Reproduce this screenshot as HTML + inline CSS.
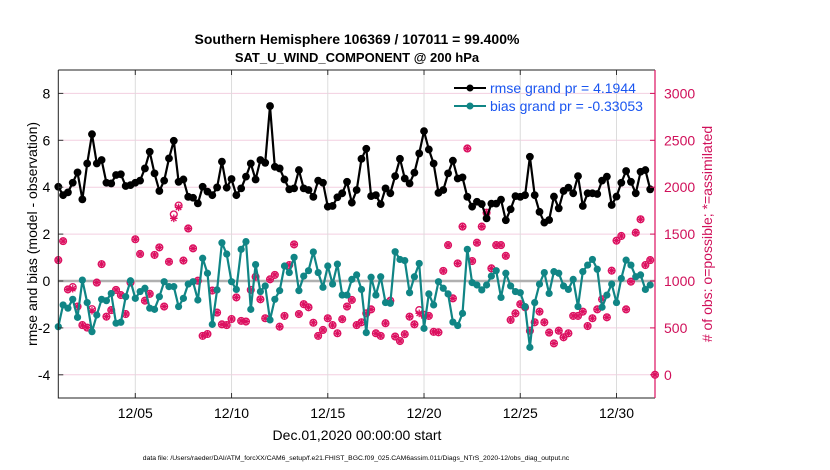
<!DOCTYPE html>
<html><head><meta charset="utf-8"><style>
body{margin:0;background:#fff;}
svg{display:block;font-family:"Liberation Sans",sans-serif;}
</style></head><body>
<svg id="chart" width="830" height="470" viewBox="0 0 830 470" xmlns="http://www.w3.org/2000/svg">
<rect width="830" height="470" fill="#fff"/>
<text x="357" y="44" text-anchor="middle" font-size="14" font-weight="bold">Southern Hemisphere 106369 / 107011 = 99.400%</text>
<text x="357" y="62" text-anchor="middle" font-size="13" font-weight="bold">SAT_U_WIND_COMPONENT @ 200 hPa</text>
<g id="grid"></g>
<g id="marks"></g>
<g id="axes"></g>
<text transform="translate(37,234) rotate(-90)" text-anchor="middle" font-size="14">rmse and bias (model - observation)</text>
<text transform="translate(712,234) rotate(-90)" text-anchor="middle" font-size="14" fill="#d0105a">#  of obs: o=possible; *=assimilated</text>
<text x="357" y="440" text-anchor="middle" font-size="14">Dec.01,2020 00:00:00 start</text>
<text x="356" y="460" text-anchor="middle" font-size="6.8">data file: /Users/raeder/DAI/ATM_forcXX/CAM6_setup/f.e21.FHIST_BGC.f09_025.CAM6assim.011/Diags_NTrS_2020-12/obs_diag_output.nc</text>
<g>
<line x1="454" y1="88" x2="486" y2="88" stroke="#000" stroke-width="2"/>
<circle cx="470" cy="88" r="3.5" fill="#000"/>
<text x="490" y="93" font-size="14" fill="#1a55f0">rmse grand pr = 4.1944</text>
<line x1="454" y1="106" x2="486" y2="106" stroke="#108585" stroke-width="2"/>
<circle cx="470" cy="106" r="3.5" fill="#108585"/>
<text x="490" y="111" font-size="14" fill="#1a55f0">bias grand pr = -0.33053</text>
</g>
</svg>
<script>
const rmse=[4.02,3.66,3.78,4.19,4.63,3.48,5.01,6.26,5.01,5.16,4.19,4.16,4.52,4.55,4.05,4.09,4.19,4.28,4.8,5.51,4.59,3.84,4.28,5.23,5.98,4.23,4.33,3.59,3.55,3.31,4.02,3.81,3.66,3.99,5.09,3.98,4.35,3.66,3.95,4.45,5.01,4.33,5.16,5.04,7.46,4.87,4.8,4.33,3.91,3.95,4.73,3.95,3.88,3.59,4.28,4.19,3.17,3.2,3.57,3.74,4.23,3.34,3.88,5.21,5.64,3.62,3.66,3.28,3.95,3.74,4.47,5.21,4.37,4.16,4.62,5.44,6.39,5.61,5.01,3.76,3.88,4.59,5.13,4.37,4.42,3.59,3.17,3.38,3.28,2.67,3.3,3.3,3.47,2.59,3.06,3.62,3.59,3.66,5.3,3.66,2.95,2.49,2.6,3.6,3.1,3.84,3.98,3.74,4.47,3.2,3.74,3.74,3.71,4.28,4.45,3.24,3.6,4.19,4.69,4.23,3.74,4.66,4.73,3.91];
const bias=[-1.95,-1.02,-1.16,-0.78,-1.55,0.04,-0.92,-2.16,-1.45,-0.78,-0.84,-0.53,-1.8,-1.76,-0.67,0.01,-0.74,-0.45,-0.31,-1.16,-1.21,-0.67,-0.03,-0.24,-0.24,-1.09,-0.74,-0.13,-0.03,-0.81,0.97,0.33,-1.85,-0.38,1.63,1.15,-0.03,-0.36,1.35,1.68,-1.21,0.7,-0.45,-0.21,-1.66,-0.78,-0.41,0.64,0.36,1.01,-0.41,0.21,0.44,1.24,0.36,-0.27,0.64,-0.13,0.72,-0.6,-0.6,0.07,0.26,-0.36,-2.2,0.16,-0.6,0.18,-0.92,-0.95,1.25,0.92,0.87,-0.5,0.18,0.75,-2.02,-0.55,-1.02,-0.03,-0.31,-0.55,-1.75,-1.9,-1.38,1.35,-0.07,-0.17,-0.38,-0.17,0.21,0.44,-0.7,0.33,-0.21,-0.45,-0.5,-1.09,-2.83,-0.92,-0.13,0.36,-0.53,0.4,0.33,-0.21,-0.36,0.07,-1.09,0.4,0.68,0.92,0.5,-1.12,-0.6,-0.13,-0.92,0.11,0.89,0.68,0.18,0.26,-0.36,-0.17];
const obsUsed=[1223,1425,910,918,728,530,503,683,983,1180,620,690,905,850,648,983,1445,1288,790,863,1278,1358,728,1205,1668,1785,1218,1560,1348,1003,415,435,898,663,538,530,595,825,575,568,905,1045,805,603,1018,1065,513,628,1170,1390,648,753,720,555,415,478,603,530,443,593,728,798,530,560,655,698,443,415,550,790,408,360,433,620,538,655,628,628,458,453,1108,1383,815,1188,1580,2413,1213,1408,1580,1728,1135,1383,1383,1268,585,655,753,720,470,560,673,560,450,335,470,400,443,628,628,673,520,603,698,805,613,1110,1430,1480,698,993,1515,1658,1170,1223,0];
const obsPossible=[1223,1425,910,935,728,530,503,700,983,1180,620,690,905,850,648,983,1445,1288,790,863,1278,1358,728,1205,1710,1805,1218,1560,1348,1003,415,435,898,663,538,530,595,825,575,568,905,1045,805,603,1018,1065,513,628,1170,1390,648,753,720,555,415,478,603,530,443,593,728,798,530,560,655,698,443,415,550,790,408,360,433,620,538,690,640,628,458,453,1108,1383,815,1188,1580,2413,1213,1408,1580,1728,1135,1383,1383,1268,585,655,753,720,470,560,673,560,450,335,470,400,443,628,628,673,520,603,698,805,613,1110,1430,1480,698,993,1515,1658,1170,1223,0];
const leftTicks=[-4,-2,0,2,4,6,8];
const rightTicks=[0,500,1000,1500,2000,2500,3000];
const dateTicks=["12/05","12/10","12/15","12/20","12/25","12/30"];
const dateTickDays=[4,9,14,19,24,29];

const NS="http://www.w3.org/2000/svg";
const L=58.3,R=655,T=70,B=398;
function x(day){return L+day/31*(R-L);}
function y(v){return 281-v*23.45;}
function yo(n){return y(n/250-4);}
function mk(tag,attrs,parent){const e=document.createElementNS(NS,tag);for(const k in attrs)e.setAttribute(k,attrs[k]);parent.appendChild(e);return e;}
const grid=document.getElementById('grid'),marks=document.getElementById('marks'),axes=document.getElementById('axes');

leftTicks.forEach(v=>{
  const g=mk('line',{x1:L,x2:R,y1:y(v),y2:y(v),stroke:'#f3cfe0','stroke-width':1},grid);
  
  
  const t=mk('text',{x:L-8,y:y(v)+5,'text-anchor':'end','font-size':14},axes);
  t.textContent=String(v);
  
  
  mk('line',{x1:L,x2:L+5,y1:y(v),y2:y(v),stroke:'#333'},axes);
});
dateTickDays.forEach((d,i)=>{
  const g=mk('line',{x1:x(d),x2:x(d),y1:T,y2:B,stroke:'#dcdcdc','stroke-width':1},grid);
  
  
  const t=mk('text',{x:x(d),y:418,'text-anchor':'middle','font-size':14},axes);
  t.textContent=dateTicks[i];
  
  
  mk('line',{x1:x(d),x2:x(d),y1:B,y2:B-5,stroke:'#333'},axes);
  mk('line',{x1:x(d),x2:x(d),y1:T,y2:T+5,stroke:'#333'},axes);
});
rightTicks.forEach(n=>{
  const t=mk('text',{x:R+9,y:yo(n)+5,'font-size':14,fill:'#d0105a'},axes);
  t.textContent=String(n);
  
  
  mk('line',{x1:R-5,x2:R,y1:yo(n),y2:yo(n),stroke:'#d0105a'},axes);
});
const zl=mk('line',{x1:L,x2:R,y1:y(0),y2:y(0),stroke:'#b0b0b0','stroke-width':2.5},grid);



function series(arr,color,name,rad){
  const pts=arr.map((v,i)=>x(i*0.25).toFixed(1)+','+y(v).toFixed(1)).join(' ');
  const pl=mk('polyline',{points:pts,fill:'none',stroke:color,'stroke-width':2.2,'stroke-linejoin':'round'},marks);
  
  
  arr.forEach((v,i)=>{
    const c=mk('circle',{cx:x(i*0.25),cy:y(v),r:rad,fill:color},marks);
    
    
  });
}
const mag='#dc1060';
obsPossible.forEach((n,i)=>{
  const c=mk('circle',{cx:x(i*0.25),cy:yo(n),r:3.4,fill:'none',stroke:mag,'stroke-width':1.3},marks);
  
  
});
obsUsed.forEach((n,i)=>{
  const cx=x(i*0.25),cy=yo(n),r=3.8;
  const g=mk('g',{stroke:mag,'stroke-width':1.3},marks);
  
  
  mk('line',{x1:cx-r,x2:cx+r,y1:cy,y2:cy},g);
  mk('line',{x1:cx,x2:cx,y1:cy-r,y2:cy+r},g);
  mk('line',{x1:cx-r*0.7,x2:cx+r*0.7,y1:cy-r*0.7,y2:cy+r*0.7},g);
  mk('line',{x1:cx-r*0.7,x2:cx+r*0.7,y1:cy+r*0.7,y2:cy-r*0.7},g);
});
series(rmse,'#000','rmse',3.9);
series(bias,'#108585','bias',3.6);

const fr=mk('path',{d:`M${L},${T} L${R},${T} M${L},${T} L${L},${B} L${R},${B}`,fill:'none',stroke:'#222','stroke-width':1},axes);


const ra=mk('line',{x1:R,x2:R,y1:T,y2:B,stroke:mag,'stroke-width':1.2},axes);


</script>
</body></html>
